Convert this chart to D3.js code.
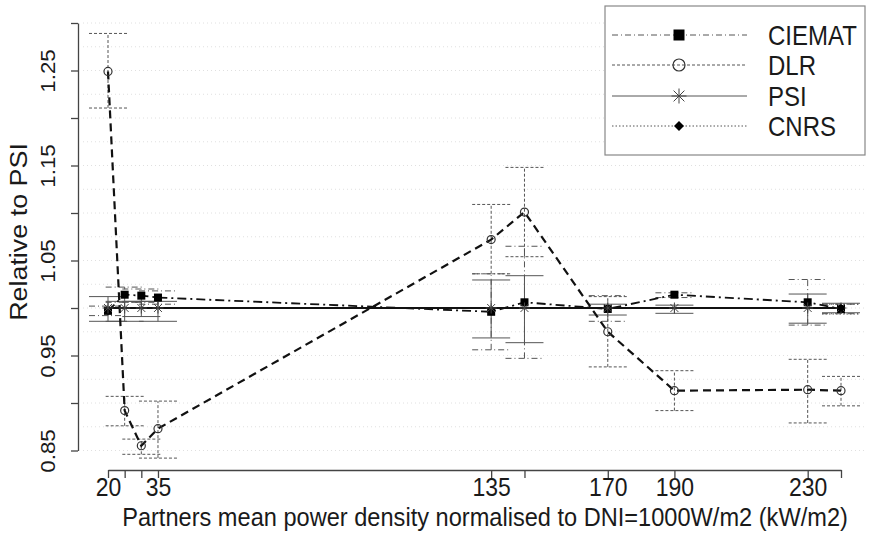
<!doctype html>
<html lang="en">
<head>
    <meta charset="UTF-8">
    <title>Relative to PSI</title>
    <script src="https://cdn.jsdelivr.net/npm/d3@7"></script>
    <style>
        html, body {
            margin: 0;
            padding: 0;
            background: #fff;
            overflow: hidden;
        }
        text {
            font-family: "Liberation Sans", Arial, sans-serif;
            fill: #1a1a1a;
        }
    </style>
</head>
<body>
<svg id="chart" width="869" height="534"></svg>
<script>
    // x positions (power density, kW/m2)
    const xValues = [20, 25, 30, 35, 135, 145, 170, 190, 230, 240];
    const xTickLabels = ["20", "", "", "35", "135", "", "170", "190", "230", ""];

    const yTicks = [0.85, 0.90, 0.95, 1.00, 1.05, 1.10, 1.15, 1.20, 1.25, 1.30];
    const yTickLabels = ["0.85", "", "0.95", "", "1.05", "", "1.15", "", "1.25", ""];
    const gridValues = d3.range(0, 19).map(i => +(0.85 + i * 0.025).toFixed(3));

    const ciemat = [0.997, 1.014, 1.013, 1.011, 0.996, 1.006, 0.999, 1.014, 1.006, 0.999];
    const ciematLow = [0.992, 1.006, 1.006, 1.004, 0.956, 0.947, 0.986, 1.011, 0.982, 0.994];
    const ciematHigh = [1.002, 1.022, 1.020, 1.018, 1.036, 1.065, 1.013, 1.016, 1.030, 1.004];

    const dlr = [1.249, 0.892, 0.855, 0.873, 1.072, 1.101, 0.975, 0.913, 0.914, 0.913];
    const dlrLow = [1.2105, 0.876, 0.846, 0.842, 1.036, 1.054, 0.938, 0.892, 0.879, 0.897];
    const dlrHigh = [1.289, 0.907, 0.862, 0.902, 1.109, 1.148, 1.012, 0.934, 0.946, 0.928];

    const psi = [1, 1, 1, 1, 1, 1, 1, 1, 1, 1];
    const psiLow = [0.986, 0.986, 0.991, 0.986, 0.9685, 0.9635, 0.9926, 0.9944, 0.984, 0.995];
    const psiHigh = [1.012, 1.007, 1.007, 1.007, 1.0295, 1.034, 1.004, 1.003, 1.0147, 1.005];

    const cnrsX = [240];
    const cnrs = [1.0];
    const cnrsLow = [0.9937];
    const cnrsHigh = [1.004];

    const svg = d3.select("#chart");
    const x = d3.scaleLinear().domain([20, 240]).range([108, 841]);
    const y = d3.scaleLinear().domain([0.85, 1.30]).range([450.5, 23]);
    const capW = 19;
    const stretch = 1.12; // the original picture is a bit taller than wide

    const series = [
        {name: "CIEMAT", xs: xValues, v: ciemat, lo: ciematLow, hi: ciematHigh,
            dash: "9,4,2,4", width: 1.8, barDash: "6,3,1,3", marker: "square"},
        {name: "DLR", xs: xValues, v: dlr, lo: dlrLow, hi: dlrHigh,
            dash: "8,5", width: 2.2, barDash: "3,2", marker: "circle"},
        {name: "PSI", xs: xValues, v: psi, lo: psiLow, hi: psiHigh,
            dash: null, width: 2, barDash: null, marker: "star"},
        {name: "CNRS", xs: cnrsX, v: cnrs, lo: cnrsLow, hi: cnrsHigh,
            dash: "1.5,2.5", width: 1.5, barDash: "1.5,2", marker: "diamond"}
    ];

    // faint grid
    svg.append("g").selectAll("line")
        .data(gridValues)
        .enter().append("line")
        .attr("x1", 83).attr("x2", 866)
        .attr("y1", d => y(d)).attr("y2", d => y(d))
        .attr("stroke", "#e0e0e0")
        .attr("stroke-width", 1)
        .attr("stroke-dasharray", "1,3");

    // error bars
    series.forEach(s => {
        const g = svg.append("g")
            .attr("stroke", "#555")
            .attr("stroke-width", 1)
            .attr("fill", "none")
            .attr("stroke-dasharray", s.barDash);
        s.xs.forEach((xv, i) => {
            const cx = x(xv);
            g.append("line").attr("x1", cx).attr("x2", cx)
                .attr("y1", y(s.lo[i])).attr("y2", y(s.hi[i]));
            g.append("line").attr("x1", cx - capW).attr("x2", cx + capW)
                .attr("y1", y(s.lo[i])).attr("y2", y(s.lo[i]));
            g.append("line").attr("x1", cx - capW).attr("x2", cx + capW)
                .attr("y1", y(s.hi[i])).attr("y2", y(s.hi[i]));
        });
    });

    // connecting lines
    series.forEach(s => {
        if (s.xs.length < 2) return;
        const line = d3.line().x((d, i) => x(s.xs[i])).y(d => y(d));
        svg.append("path")
            .datum(s.v)
            .attr("d", line)
            .attr("fill", "none")
            .attr("stroke", "#111")
            .attr("stroke-width", s.width)
            .attr("stroke-dasharray", s.dash);
    });

    function drawMarker(g, type, cx, cy, size) {
        if (type === "square") {
            g.append("rect").attr("x", cx - size / 2).attr("y", cy - size / 2)
                .attr("width", size).attr("height", size).attr("fill", "#000");
        } else if (type === "circle") {
            g.append("circle").attr("cx", cx).attr("cy", cy).attr("r", size / 2)
                .attr("fill", "none").attr("stroke", "#333").attr("stroke-width", 1.2);
        } else if (type === "star") {
            const r = size / 2, d = r * 0.72;
            g.append("path")
                .attr("d", `M${cx - r},${cy}H${cx + r}M${cx},${cy - r}V${cy + r}` +
                    `M${cx - d},${cy - d}L${cx + d},${cy + d}M${cx - d},${cy + d}L${cx + d},${cy - d}`)
                .attr("stroke", "#444").attr("stroke-width", 1).attr("fill", "none");
        } else if (type === "diamond") {
            const r = size / 2;
            g.append("path")
                .attr("d", `M${cx},${cy - r}L${cx + r},${cy}L${cx},${cy + r}L${cx - r},${cy}Z`)
                .attr("fill", "#000");
        }
    }

    const markerSize = {square: 8, circle: 8, star: 11, diamond: 8};
    series.forEach(s => {
        const g = svg.append("g");
        s.xs.forEach((xv, i) => drawMarker(g, s.marker, x(xv), y(s.v[i]), markerSize[s.marker]));
    });

    // axes
    const xAxis = svg.append("g")
        .attr("transform", "translate(0,470)")
        .call(d3.axisBottom(x).tickValues(xValues).tickSize(8).tickSizeOuter(0)
            .tickFormat((d, i) => xTickLabels[i]));
    xAxis.selectAll("text").attr("y", 0).attr("dy", 0)
        .attr("transform", `translate(0,25.5) scale(1,${stretch})`)
        .style("font-size", "23px");

    const yAxis = svg.append("g")
        .attr("transform", "translate(78,0)")
        .call(d3.axisLeft(y).tickValues(yTicks).tickSize(7).tickSizeOuter(0)
            .tickFormat((d, i) => yTickLabels[i]));
    yAxis.selectAll("text")
        .attr("x", 0).attr("y", -23).attr("dy", 0)
        .attr("transform", `rotate(-90) scale(${stretch},1)`)
        .attr("text-anchor", "middle")
        .style("font-size", "20px");

    [xAxis, yAxis].forEach(a => {
        a.selectAll("path, line").attr("stroke", "#444").attr("stroke-width", 1.3);
        a.attr("font-family", null).attr("font-size", null);
    });

    svg.append("text")
        .attr("transform", `translate(485,525.5) scale(1,${stretch})`)
        .attr("text-anchor", "middle")
        .style("font-size", "23.6px")
        .text("Partners mean power density normalised to DNI=1000W/m2 (kW/m2)");

    svg.append("text")
        .attr("transform", `translate(27,232) rotate(-90) scale(${stretch},1)`)
        .attr("text-anchor", "middle")
        .style("font-size", "24px")
        .text("Relative to PSI");

    // legend
    const legend = svg.append("g");
    legend.append("rect")
        .attr("x", 605).attr("y", 6).attr("width", 260).attr("height", 149)
        .attr("fill", "#fff").attr("stroke", "#888").attr("stroke-width", 1.2);
    const rowY = [35, 65, 96, 126];
    const legendMarkerSize = {square: 11, circle: 12, star: 15, diamond: 10};
    series.forEach((s, i) => {
        legend.append("line")
            .attr("x1", 612).attr("x2", 747)
            .attr("y1", rowY[i]).attr("y2", rowY[i])
            .attr("stroke", "#555").attr("stroke-width", 1)
            .attr("stroke-dasharray", s.barDash);
        drawMarker(legend, s.marker, 679, rowY[i], legendMarkerSize[s.marker]);
        legend.append("text")
            .attr("transform", `translate(768,${rowY[i] + 9.5}) scale(1,${stretch})`)
            .style("font-size", "24px")
            .text(s.name);
    });
</script>
</body>
</html>
